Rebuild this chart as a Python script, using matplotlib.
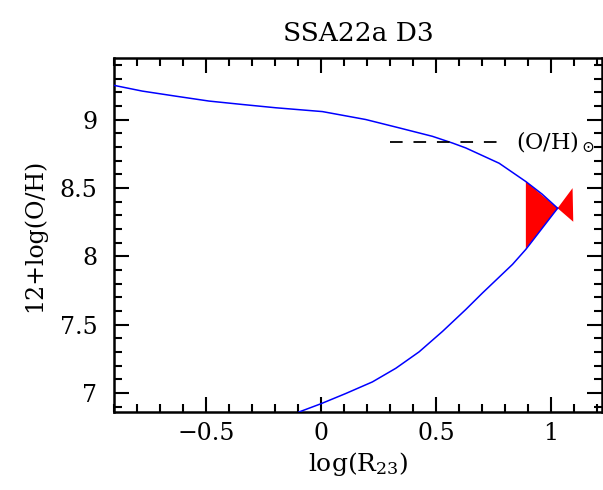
import matplotlib
matplotlib.use("Agg")
import matplotlib.pyplot as plt
from matplotlib.ticker import MultipleLocator

plt.rcParams['font.family'] = ['DejaVu Serif']
plt.rcParams['mathtext.fontset'] = 'dejavuserif'

# Upper (metal-rich) branch
upper_x = [-0.9, -0.777, -0.632, -0.487, -0.342, -0.197, 0.006, 0.194, 0.339, 0.484, 0.571, 0.629, 0.774, 0.89, 0.96, 1.028]
upper_y = [9.25, 9.208, 9.171, 9.135, 9.11, 9.086, 9.058, 9.0, 8.939, 8.877, 8.828, 8.792, 8.68, 8.546, 8.455, 8.351]
# Lower (metal-poor) branch
lower_x = [-0.096, -0.001, 0.107, 0.223, 0.325, 0.426, 0.528, 0.629, 0.701, 0.832, 0.89, 1.028]
lower_y = [6.86, 6.92, 6.995, 7.08, 7.18, 7.30, 7.45, 7.61, 7.73, 7.94, 8.05, 8.351]
# Allowed region (bowtie)
region_x = [0.89, 1.028, 1.093, 1.096, 1.028, 0.89]
region_y = [8.546, 8.351, 8.498, 8.252, 8.351, 8.055]
# Solar abundance
solar_oh = 8.833
solar_x = [0.30, 0.80]

fig = plt.figure(figsize=(6.03, 4.90), dpi=100)
ax = fig.add_axes([0.189, 0.1592, 0.809, 0.7224])

ax.fill(region_x, region_y, color='red', lw=0, zorder=2)
ax.plot(upper_x, upper_y, color='blue', lw=1.1, zorder=3)
ax.plot(lower_x, lower_y, color='blue', lw=1.1, zorder=3)
ax.plot(solar_x, [solar_oh, solar_oh], color='black', lw=1.3, dashes=(7, 6), zorder=3)
ax.text(0.845, solar_oh, r'(O/H)$_\odot$', fontsize=16, va='center', ha='left')

ax.set_xlim(-0.9, 1.22)
ax.set_ylim(6.86, 9.45)
ax.xaxis.set_minor_locator(MultipleLocator(0.1))
ax.yaxis.set_minor_locator(MultipleLocator(0.1))
ax.set_xticks([-0.5, 0, 0.5, 1])
ax.set_xticklabels(['\u22120.5', '0', '0.5', '1'])
ax.set_yticks([7, 7.5, 8, 8.5, 9])
ax.set_yticklabels(['7', '7.5', '8', '8.5', '9'])
ax.tick_params(which='both', direction='in', top=True, right=True, width=1.5, labelsize=17)
ax.tick_params(which='major', length=11)
ax.tick_params(axis='x', which='major', pad=7)
ax.tick_params(axis='y', which='major', pad=12)
ax.tick_params(which='minor', length=6)
for s in ax.spines.values():
    s.set_linewidth(1.8)

ax.set_xlabel(r'log(R$_{23}$)', fontsize=18, labelpad=4)
ax.set_ylabel('12+log(O/H)', fontsize=17, labelpad=10)
ax.set_title('SSA22a D3', fontsize=19, pad=12)

fig.savefig('out.png', dpi=100)
